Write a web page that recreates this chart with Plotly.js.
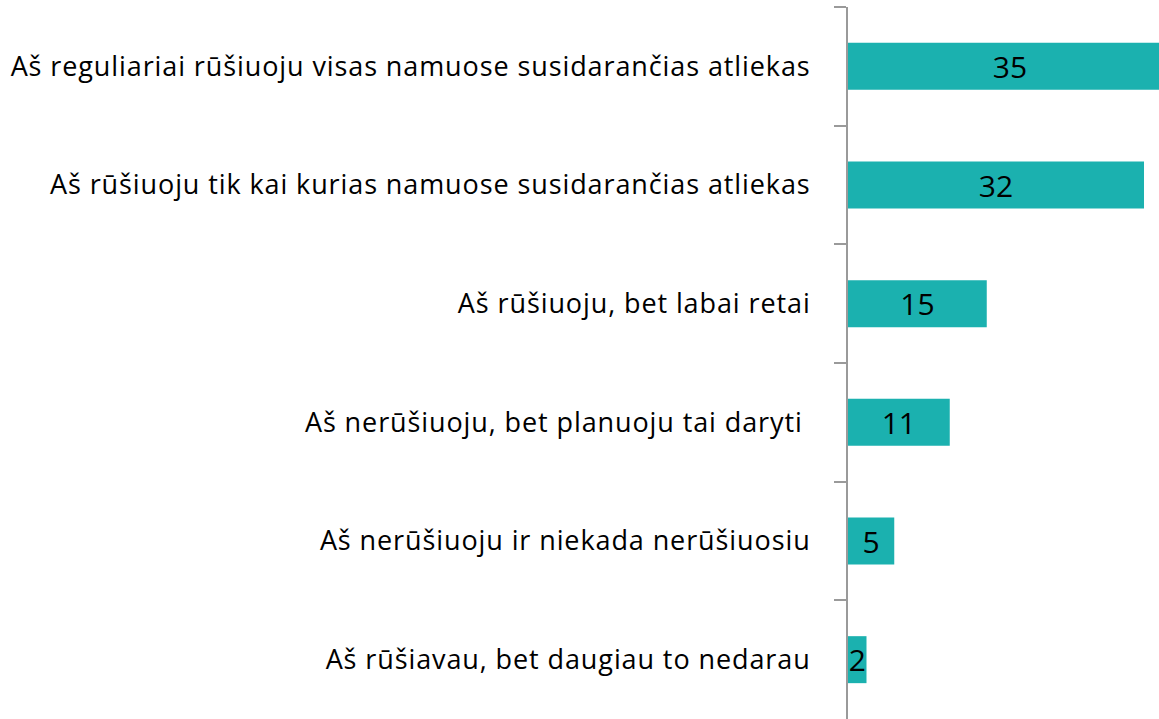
<!DOCTYPE html>
<html>
<head>
<meta charset="utf-8">
<script src="https://cdn.plot.ly/plotly-3.0.1.min.js"></script>
<style>
html,body{margin:0;padding:0;background:#fff;}
#chart{width:1159px;height:719px;}
#chart .ytick text{letter-spacing:0.9px;}
</style>
</head>
<body>
<div id="chart"></div>
<script>
const categories = [
  "Aš reguliariai rūšiuoju visas namuose susidarančias atliekas",
  "Aš rūšiuoju tik kai kurias namuose susidarančias atliekas",
  "Aš rūšiuoju, bet labai retai",
  "Aš nerūšiuoju, bet planuoju tai daryti\u00a0",
  "Aš nerūšiuoju ir niekada nerūšiuosiu",
  "Aš rūšiavau, bet daugiau to nedarau"
];
const values = [35, 32, 15, 11, 5, 2];

const FONT = "'Open Sans', Lato, sans-serif";

const trace = {
  type: "bar",
  orientation: "h",
  y: categories,
  x: values,
  marker: {color: "#1BB1AF"},
  text: values.map(String),
  textposition: "inside",
  insidetextanchor: "middle",
  textangle: 0,
  constraintext: "none",
  insidetextfont: {family: FONT, size: 30, color: "#000"},
  cliponaxis: true,
  hoverinfo: "none"
};

const layout = {
  width: 1159,
  height: 719,
  margin: {l: 848, r: 0, t: 7, b: 0, pad: 0},
  paper_bgcolor: "#fff",
  plot_bgcolor: "#fff",
  bargap: 0.604,
  showlegend: false,
  font: {family: FONT, size: 27, color: "#000"},
  xaxis: {
    range: [0, 33.62],
    visible: false,
    fixedrange: true
  },
  yaxis: {
    type: "category",
    autorange: "reversed",
    automargin: false,
    showline: true,
    linecolor: "#9a9a9a",
    linewidth: 2,
    showgrid: false,
    zeroline: false,
    ticks: "outside",
    tickson: "boundaries",
    ticklen: 12,
    tickwidth: 2,
    tickcolor: "#9a9a9a",
    ticklabelstandoff: 30,
    tickfont: {family: FONT, size: 27, color: "#000"}
  }
};

Plotly.newPlot("chart", [trace], layout, {displayModeBar: false, staticPlot: true});
</script>
</body>
</html>
